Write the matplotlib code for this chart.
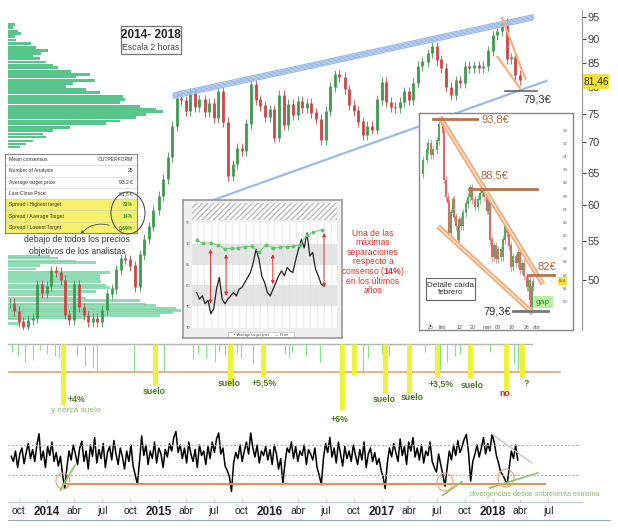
import numpy as np
import pandas as pd
import matplotlib
matplotlib.use('Agg')
import matplotlib.pyplot as plt
from matplotlib.patches import Rectangle, Ellipse

plt.rcParams['font.family'] = ['Liberation Sans', 'DejaVu Sans']
plt.rcParams['mathtext.fontset'] = 'custom'
plt.rcParams['mathtext.bf'] = 'Liberation Sans:bold'
plt.rcParams['mathtext.rm'] = 'Liberation Sans'

# ---------------- data ----------------
price_dates = pd.date_range('2013-09-01', periods=111, freq='SMS')
price_close = [47.3, 46.4, 45.2, 44.6, 45.4, 45.6, 49.5, 48.5, 49.3, 51.2,
               51.0, 50.0, 46.0, 45.4, 49.5, 46.8, 45.9, 45.2, 45.6, 45.2,
               46.5, 48.4, 49.0, 51.3, 52.7, 52.6, 51.8, 49.2, 53.2, 55.3,
               57.0, 59.3, 61.4, 64.0, 67.5, 72.8, 77.8, 77.5, 75.5, 79.0,
               76.2, 77.6, 75.4, 77.0, 74.2, 79.2, 73.5, 64.5, 66.3, 69.0,
               68.5, 73.2, 80.5, 77.6, 76.5, 74.5, 75.8, 70.8, 78.5, 73.0,
               76.8, 74.8, 77.4, 76.0, 77.0, 75.2, 74.0, 70.3, 75.5, 80.1,
               82.5, 82.0, 79.6, 76.6, 75.6, 73.6, 71.3, 72.8, 72.2, 77.6,
               81.0, 77.2, 76.2, 76.1, 77.2, 79.2, 77.6, 80.8, 84.2, 85.2,
               86.9, 88.3, 85.6, 83.8, 80.0, 78.6, 81.3, 80.9, 84.2, 83.8,
               84.4, 83.8, 84.2, 87.5, 90.8, 91.7, 93.6, 85.8, 86.0, 82.4,
               81.5]
last_price = 81.46
price_ticks = [50, 55, 60, 65, 70, 75, 80, 85, 90, 95]

vol_top_levels = [93.2, 92.5, 91.6, 91.2, 90.5, 89.8, 89.1, 88.2, 87.6, 86.9,
                  86.5, 85.9, 85.1, 84.5, 83.9, 83.1, 82.5, 82.1, 81.3, 80.7,
                  80.1, 79.6, 79.0, 78.3, 77.7, 77.1, 76.4, 75.8, 75.5, 74.9,
                  74.4, 73.7, 73.2, 72.6, 72.0, 71.4, 70.9, 70.2, 69.7, 69.2]
vol_top_widths = [7, 5, 10, 13, 7, 8, 23, 28, 40, 33,
                  25, 32, 38, 45, 50, 63, 82, 68, 87, 65,
                  58, 78, 92, 115, 117, 112, 132, 148, 155, 138,
                  128, 112, 98, 62, 45, 35, 38, 25, 18, 12]
vol_low_levels = [53.0, 52.8, 52.4, 52.2, 51.8, 51.4, 51.0, 50.6, 50.2, 49.9,
                  49.4, 49.1, 48.7, 48.3, 47.9, 47.6, 47.2, 47.0, 46.7, 46.5,
                  46.2, 45.9, 45.7, 45.5, 45.0]
vol_low_widths = [42, 50, 68, 88, 32, 28, 102, 92, 92, 93,
                  98, 102, 88, 72, 78, 132, 138, 148, 168, 173,
                  165, 152, 78, 25, 12]

upper_channel_dates = [2015.13, 2018.36]
upper_channel_prices = [78.9, 95.5]
lower_channel_dates = [2015.49, 2018.48]
lower_channel_prices = [60.8, 81.3]
wedge_a_dates, wedge_a_prices = [2018.08, 2018.29], [94.8, 81.7]
wedge_b_dates, wedge_b_prices = [2018.04, 2018.24], [86.2, 79.9]
low_line_dates, low_line_price = [2018.11, 2018.39], 79.3

spike_dates = [2013.69, 2013.74, 2013.80, 2013.87, 2013.94, 2014.00, 2014.07, 2014.11, 2014.27, 2014.34,
               2014.41, 2014.45, 2014.78, 2015.05, 2015.31, 2015.35, 2015.43, 2015.51, 2015.54, 2015.60,
               2015.70, 2015.74, 2015.85, 2015.92, 2016.13, 2016.17, 2016.20, 2016.32, 2016.45, 2016.63,
               2016.74, 2016.77, 2016.83, 2016.88, 2017.00, 2017.07, 2017.25, 2017.39, 2017.52, 2017.59,
               2017.66, 2017.70, 2017.97, 2018.13, 2018.19, 2018.22]
spike_depth = [8, 12, 18, 16, 6, 10, 12, 14, 12, 22,
               24, 28, 28, 28, 15, 10, 14, 18, 8, 12,
               10, 14, 20, 8, 10, 14, 8, 12, 18, 22,
               30, 24, 28, 14, 10, 12, 10, 8, 26, 18,
               12, 10, 8, 16, 20, 26]
floor_dates = [2014.14, 2014.97, 2015.64, 2015.94, 2016.65, 2016.75, 2017.03, 2017.25, 2017.50, 2017.79, 2018.12, 2018.26]
floor_depth = [61, 41, 41, 33, 66, 31, 49, 49, 33, 34, 46, 33]
threshold_depth = 28

osc_dates = pd.date_range('2013-09-06', periods=238, freq='W-FRI')
osc_values = [55, 48, 62, 40, 58, 66, 45, 60, 72, 52,
              64, 48, 70, 85, 50, 62, 40, 68, 56, 74,
              48, 60, 42, 55, 30, 12, 40, 62, 50, 70,
              58, 44, 66, 75, 48, 62, 38, 70, 55, 80,
              46, 64, 52, 72, 40, 60, 68, 50, 76, 58,
              44, 66, 54, 38, 62, 48, 70, 42, 30, 18,
              48, 82, 56, 70, 44, 62, 52, 74, 46, 66,
              58, 40, 64, 54, 72, 62, 80, 88, 60, 70,
              52, 66, 46, 74, 58, 48, 64, 40, 70, 56,
              62, 44, 68, 52, 74, 60, 78, 86, 58, 66,
              42, 36, 28, 8, 46, 60, 52, 70, 48, 62,
              74, 58, 86, 66, 54, 70, 46, 62, 56, 68,
              50, 64, 44, 70, 58, 38, 52, 18, 46, 66,
              60, 74, 52, 68, 48, 62, 56, 70, 44, 64,
              58, 50, 66, 40, 30, 17, 52, 72, 60, 80,
              54, 66, 46, 74, 58, 42, 68, 52, 62, 48,
              70, 56, 44, 64, 50, 74, 40, 58, 66, 48,
              60, 44, 52, 36, 28, 12, 46, 66, 54, 72,
              60, 48, 78, 56, 68, 44, 74, 62, 80, 54,
              66, 50, 70, 46, 62, 56, 74, 48, 40, 34,
              58, 44, 30, 15, 40, 62, 50, 70, 56, 76,
              60, 68, 78, 84, 60, 22, 48, 58, 70, 54,
              66, 80, 58, 72, 62, 84, 74, 56, 46, 34,
              30, 24, 17, 40, 62, 52, 70, 50]
osc_upper, osc_lower, osc_floor = 70, 30, 18

table_rows = [("Mean consensus", "OUTPERFORM"), ("Number of Analysts", "25"),
              ("Average target price", "93,2 €"), ("Last Close Price", "81,5 €"),
              ("Spread / Highest target", "31%"), ("Spread / Average Target", "14%"),
              ("Spread / Lowest Target", "0,69%")]

cons_price = [78.3, 76.7, 77.5, 75.6, 76.4, 73.2, 74.4, 79.1, 81.9, 76.7,
              75.6, 76.7, 77.5, 78.3, 77.5, 79.1, 79.5, 80.7, 81.9, 83.1,
              85.5, 88.7, 86.3, 82.3, 80.7, 78.3, 77.5, 79.1, 80.7, 82.3,
              83.5, 82.3, 84.3, 83.5, 83.1, 86.1, 88.7, 91.0, 89.0, 92.6,
              87.1, 87.9, 83.9, 82.3, 80.3, 79.9]
target_t = [0, 2.4, 4.9, 7.6, 10.0, 12.4, 14.7, 17.1, 19.4, 22.1,
            24.5, 27.1, 29.4, 31.8, 34.2, 36.5, 38.9, 41.2, 44.2]
target_v = [90.8, 90.1, 90.2, 89.6, 88.8, 88.9, 89.0, 89.3, 89.4, 87.9,
            89.8, 89.0, 89.1, 89.3, 89.4, 89.8, 92.0, 92.8, 93.3]
arrow_t = [4.9, 10.4, 26.9, 45.0]
arrow_lo = [75.6, 77.5, 80.3, 79.5]
arrow_hi = [88.7, 87.5, 87.5, 92.6]

detail_days = [18.1, 20.2, 22.3, 23.3, 24.8, 26.5, 28.6, 30.2, 31.7, 32.7,
               33.3, 34.4, 35.4, 36.5, 37.5, 38.6, 39.6, 40.6, 41.7, 42.7,
               43.8, 45.2, 46.9, 48.3, 49.4, 50.8, 52.5, 54.2, 55.6, 57.1,
               58.3, 59.8, 60.8, 61.9, 62.9, 64.4, 65.6, 67.1, 68.6, 69.8,
               71.3, 72.7, 73.9, 75.0, 76.5, 77.9, 79.2, 80.6, 82.1, 83.3,
               84.8, 85.8, 86.9, 87.5, 88.1, 88.9]
detail_close = [89.7, 90.7, 91.5, 92.0, 91.1, 91.5, 92.2, 93.4, 93.6, 92.8,
                89.2, 87.9, 87.5, 85.2, 86.7, 87.7, 86.4, 85.7, 84.7, 86.2,
                85.7, 86.7, 87.4, 87.9, 88.6, 87.7, 87.2, 87.7, 88.2, 88.7,
                87.9, 86.9, 87.7, 84.7, 83.4, 84.2, 83.2, 83.9, 83.4, 84.7,
                85.7, 85.2, 84.2, 82.6, 83.4, 82.9, 83.7, 82.4, 82.9, 81.9,
                81.1, 81.6, 80.1, 79.6, 81.1, 81.5]
detail_tick_days = [25, 32, 43, 51, 60, 67, 75, 85, 91]
detail_tick_labels = ['25', 'feb', '12', '20', 'mar', '08', '16', '26', 'abr']
detail_upper_days, detail_upper_prices = [30.6, 95.0], [94.0, 81.3]
detail_lower_days, detail_lower_prices = [29.4, 88.8], [85.7, 79.1]
levels = [(93.8, 26.3, 53.8), (88.5, 48.8, 91.3), (82.0, 85.6, 102.5)]
detail_low = (79.3, 76.3, 98.1)

floor_labels = [("+4%", 76, 399, '#4f7a28'), ("suelo", 154, 392, '#4f7a28'), ("suelo", 229, 383, '#4f7a28'),
                ("+5,5%", 264, 383, '#4f7a28'), ("+6%", 340, 419, '#4f7a28'), ("suelo", 384, 400, '#4f7a28'),
                ("suelo", 412, 398, '#4f7a28'), ("+3,5%", 441, 384, '#4f7a28'), ("suelo", 472, 386, '#4f7a28'),
                ("no", 505, 394, '#e02020'), ("?", 526, 383, '#4f7a28')]

# ---------------- helpers ----------------
W, H = 618, 528
fig = plt.figure(figsize=(W / 100, H / 100), dpi=100)


def box(x0, y0, x1, y1):
    return [x0 / W, 1 - y1 / H, (x1 - x0) / W, (y1 - y0) / H]


def dec_year(dates):
    d = pd.DatetimeIndex(dates)
    return np.asarray(d.year + (d.dayofyear - 1) / 365.25, dtype=float)


XL = (2013.650, 2018.798)
YL = (44.3, 96.6)
GREEN_C, RED_C = '#3f9a4f', '#cf4545'

# ---------------- volume profile (behind) ----------------
ax_vol = fig.add_axes(box(8, 10, 582, 330))
ax_vol.set_yscale('log')
ax_vol.set_ylim(*YL)
ax_vol.set_xlim(0, 574)
ax_vol.axis('off')
lv = np.array(vol_top_levels)
ax_vol.barh(lv, vol_top_widths, height=lv * 0.0068, left=0, color='#58c68a', lw=0)
lv2 = np.array(vol_low_levels)
ax_vol.barh(lv2, vol_low_widths, height=lv2 * 0.0068, left=0, color='#7fd6a8', alpha=0.85, lw=0)

# ---------------- main price chart ----------------
ax = fig.add_axes(box(8, 10, 582, 330))
ax.set_facecolor('none')
ax.set_yscale('log')
ax.set_ylim(*YL)
ax.set_xlim(*XL)
t = dec_year(price_dates)
c = np.array(price_close)
o = np.r_[c[0], c[:-1]]
col = np.where(c >= o, GREEN_C, RED_C)
ax.vlines(t, np.minimum(o, c) * 0.988, np.maximum(o, c) * 1.012, colors=col, lw=0.6)
ax.vlines(t, np.minimum(o, c), np.maximum(o, c) * 1.001, colors=col, lw=2.0)

for i in range(5):
    f = 0.9968 ** i
    ax.plot(upper_channel_dates, np.array(upper_channel_prices) * f, color='#9bbbe8', lw=0.9)
ax.plot(lower_channel_dates, lower_channel_prices, color='#9bbbe8', lw=1.6)
ax.plot(wedge_a_dates, wedge_a_prices, color='#f3b27e', lw=1.6)
ax.plot(wedge_b_dates, wedge_b_prices, color='#f3b27e', lw=1.6)
ax.plot(low_line_dates, [low_line_price] * 2, color='#666666', lw=1.2)

for s in ['top', 'left', 'bottom']:
    ax.spines[s].set_visible(False)
ax.spines['right'].set_color('#999999')
ax.yaxis.tick_right()
ax.set_yticks(price_ticks)
ax.set_yticklabels([str(v) for v in price_ticks])
ax.yaxis.set_minor_locator(matplotlib.ticker.NullLocator())
ax.tick_params(axis='y', labelsize=8, colors='#444444', length=3, pad=1)
ax.set_xticks([])

# ---------------- panel 1: spikes ----------------
ax1 = fig.add_axes(box(8, 340, 582, 425))
ax1.set_xlim(*XL)
ax1.set_ylim(-81, 4)
ax1.axis('off')
ax1.plot([XL[0], 2018.35], [0, 0], color='#b5b5b5', lw=1)
ax1.plot([XL[0], 2018.60], [-threshold_depth] * 2, color='#f0a070', lw=1.2)
ax1.vlines(spike_dates, -np.array(spike_depth), 0, color='#86e486', lw=0.8)
ax1.vlines(floor_dates, -np.array(floor_depth), 0, color='#eef23c', lw=3.6)

# ---------------- panel 2: oscillator ----------------
ax2 = fig.add_axes(box(8, 425, 582, 502))
ax2.set_facecolor('none')
ax2.set_xlim(*XL)
ax2.set_ylim(-6, 96.7)
ax2.plot(dec_year(osc_dates), osc_values, color='black', lw=1.1)
for lvl in (osc_upper, osc_lower):
    ax2.plot([XL[0], 2018.77], [lvl, lvl], ls=(0, (2, 2)), color='#aaaaaa', lw=0.7)
ax2.plot([2014.14, 2018.47], [osc_floor] * 2, color='#f08a4a', lw=1.4)
ax2.plot([2017.99, 2018.35], [84.7, 46.0], color='#bbbbbb', lw=0.8)
for xs, ys in [([2014.12, 2014.25], [10, 43]), ([2017.55, 2017.72], [3, 21]), ([2017.97, 2018.40], [12.7, 32.7])]:
    ax2.plot(xs, ys, color='#8cc870', lw=1.3)
for s in ['top', 'left', 'right']:
    ax2.spines[s].set_visible(False)
ax2.spines['bottom'].set_color('#b8c8d8')
tick_dates = pd.date_range('2013-10-01', '2018-07-01', freq='QS-JAN')
ax2.set_xticks(dec_year(tick_dates))
month_names = {4: 'abr', 7: 'jul', 10: 'oct'}
ax2.set_xticklabels([str(d.year) if d.month == 1 else month_names[d.month] for d in tick_dates])
for lab, d in zip(ax2.get_xticklabels(), tick_dates):
    if d.month == 1:
        lab.set_fontweight('bold')
        lab.set_fontsize(8.5)
    else:
        lab.set_fontsize(7.5)
ax2.tick_params(axis='x', direction='in', length=2.5, colors='#b8c8d8', labelcolor='#222222', pad=3)
ax2.set_yticks([])

# ---------------- table inset ----------------
ax_t = fig.add_axes(box(5, 154, 137, 233))
ax_t.set_xlim(0, 1)
ax_t.set_ylim(len(table_rows), 0)
ax_t.set_xticks([]); ax_t.set_yticks([])
for s in ax_t.spines.values():
    s.set_color('#888888'); s.set_linewidth(0.8)
for i, (k, v) in enumerate(table_rows):
    hl = i >= 4
    if hl:
        ax_t.add_patch(Rectangle((0, i), 1, 1, fc='#f6f06a', ec='none'))
    ax_t.axhline(i, color='#cccccc', lw=0.4)
    ax_t.text(0.03, i + 0.5, k, fontsize=3.6, va='center', color='#333333')
    ax_t.text(0.97, i + 0.5, v, fontsize=3.6, va='center', ha='right',
              color='#2a9a2a' if hl else '#333333', fontweight='bold' if hl else 'normal')

# ---------------- consensus inset ----------------
ax_c0 = fig.add_axes(box(183, 200, 342, 338))
ax_c0.set_facecolor('#efefef')
ax_c0.set_xticks([]); ax_c0.set_yticks([])
for s in ax_c0.spines.values():
    s.set_color('#999999'); s.set_linewidth(1.2)
ax_c0.add_patch(Rectangle((0.057, 0.855), 0.912, 0.123, fc='white', ec='#bbbbbb', hatch='//////', lw=0))
ax_c0.add_patch(Rectangle((0.28, 0.005), 0.42, 0.035, fc='white', ec='#bbbbbb', lw=0.4))
ax_c0.text(0.49, 0.022, '•  Average target price     —  Price', fontsize=2.6, ha='center', va='center', color='#444')

ax_c = fig.add_axes(box(192, 222, 337, 328))
ax_c.set_facecolor('white')
ax_c.set_xlim(-1.66, 49.6)
ax_c.set_ylim(69.8, 95.2)
ax_c.axhspan(85, 90, color='#e4e4e4', lw=0)
ax_c.axhspan(75, 80, color='#e4e4e4', lw=0)
ax_c.set_xticks(np.arange(0, 49, 2.5))
ax_c.grid(axis='x', color='#dddddd', lw=0.4)
ax_c.set_xticklabels([])
ax_c.set_yticks([70, 75, 80, 85, 90, 95])
ax_c.tick_params(axis='y', labelsize=3, colors='#777777', length=0, pad=1.5)
ax_c.tick_params(axis='x', length=0)
for s in ax_c.spines.values():
    s.set_visible(False)
ax_c.plot(np.arange(len(cons_price)), cons_price, color='#222222', lw=0.9)
ax_c.plot(target_t, target_v, color='#5cc86c', lw=0.6, marker='o', ms=1.8)
for ta, lo_, hi_ in zip(arrow_t, arrow_lo, arrow_hi):
    ax_c.annotate('', xy=(ta, hi_), xytext=(ta, lo_),
                  arrowprops=dict(arrowstyle='<|-|>', color='#e03030', lw=0.7, mutation_scale=5,
                                  shrinkA=0, shrinkB=0))

# ---------------- detail inset ----------------
ax_d0 = fig.add_axes(box(419, 113, 573, 330))
ax_d0.set_facecolor('white')
ax_d0.set_xticks([]); ax_d0.set_yticks([])
for s in ax_d0.spines.values():
    s.set_color('#888888'); s.set_linewidth(1.0)

ax_d = fig.add_axes(box(421, 115, 556, 322))
ax_d.set_facecolor('none')
ax_d.set_xlim(18.75, 103.1)
ax_d.set_ylim(78.45, 94.14)
dd = np.array(detail_days)
dc = np.array(detail_close)
do = np.r_[dc[0], dc[:-1]]
dcol = np.where(dc >= do, '#58a860', '#e06a6a')
ax_d.vlines(dd, np.minimum(do, dc) - 0.3, np.maximum(do, dc) + 0.3, colors=dcol, lw=0.5)
ax_d.vlines(dd, np.minimum(do, dc), np.maximum(do, dc) + 0.05, colors=dcol, lw=1.5)
for xs, ys in [(detail_upper_days, detail_upper_prices), (detail_lower_days, detail_lower_prices)]:
    ax_d.plot(xs, ys, color='#f2ad7c', lw=3.6, solid_capstyle='butt')
    ax_d.plot(xs, ys, color='#fbe3cf', lw=1.0, solid_capstyle='butt')
for p, a, b in levels:
    ax_d.plot([a, b], [p, p], color='#b8734a', lw=2.0)
ax_d.plot([detail_low[1], detail_low[2]], [detail_low[0]] * 2, color='#777777', lw=2.0)
for s in ax_d.spines.values():
    s.set_visible(False)
ax_d.yaxis.tick_right()
ax_d.set_yticks(range(80, 94))
ax_d.tick_params(axis='y', labelsize=3.2, colors='#666666', length=0, pad=5)
ax_d.set_xticks(detail_tick_days)
ax_d.set_xticklabels(detail_tick_labels)
ax_d.tick_params(axis='x', labelsize=3.8, colors='#555555', length=0, pad=2)

# ---------------- overlay annotations ----------------
ov = fig.add_axes([0, 0, 1, 1])
ov.set_xlim(0, W)
ov.set_ylim(H, 0)
ov.axis('off')
ov.patch.set_alpha(0)

ov.add_patch(Rectangle((121, 26), 60, 28, fc='white', ec='#777777', lw=0.9))
ov.text(151, 35.5, '2014- 2018', ha='center', va='center', fontsize=8.5, fontweight='bold', color='#222222')
ov.text(151, 47.5, 'Escala 2 horas', ha='center', va='center', fontsize=6.2, color='#444444')

ov.add_patch(Rectangle((583, 74), 26, 15, fc='#f5e23a', ec='none'))
ov.text(596, 81.5, f'{last_price:.2f}'.replace('.', ','), ha='center', va='center', fontsize=7.3, color='#333333')
ov.text(537, 100, '79,3€', ha='center', va='center', fontsize=8, color='#333333')

ov.add_patch(Ellipse((128, 213), 34, 42, fc='none', ec='#555555', lw=0.8))
ov.annotate('', xy=(79, 236), xytext=(112, 226),
            arrowprops=dict(arrowstyle='-|>', color='#555555', lw=0.6, mutation_scale=4,
                            connectionstyle='arc3,rad=0.35'))
ov.text(77, 240, 'debajo de todos los precios', ha='center', va='center', fontsize=6.2, color='#333333')
ov.text(77, 251, 'objetivos de los analistas', ha='center', va='center', fontsize=6.2, color='#333333')

red_lines = ['Una de las', 'máximas', 'separaciones', 'respecto a',
             r'consenso ($\mathbf{14\%}$)', 'en los últimos', 'años']
for i, s in enumerate(red_lines):
    ov.text(373, 233 + 9.6 * i, s, ha='center', va='center', fontsize=6.2, color='#e8302a')

ov.text(495, 120, '93,8€', ha='center', va='center', fontsize=8, color='#b06a3b')
ov.text(494, 175, '88,5€', ha='center', va='center', fontsize=8, color='#b06a3b')
ov.text(547, 267, '82€', ha='center', va='center', fontsize=8, color='#b06a3b')
ov.text(497, 311, '79,3€', ha='center', va='center', fontsize=8, color='#333333')
ov.add_patch(Rectangle((557.5, 277), 9, 8, fc='#f5e23a', ec='none'))
ov.text(562, 281, '81,4', ha='center', va='center', fontsize=2.6, color='#333333')
ov.add_patch(Rectangle((533, 296), 20, 12, fc='#b8eea4', ec='none'))
ov.text(543, 302, 'gap', ha='center', va='center', fontsize=6, color='#3a8a3a')
ov.add_patch(Rectangle((426, 278), 49, 22, fc='white', ec='#666666', lw=0.8))
ov.text(450.5, 289, 'Detalle caída\nfebrero', ha='center', va='center', fontsize=5.8, color='#333333',
        linespacing=1.1)

for s, x, y, cc in floor_labels:
    ov.text(x, y, s, ha='center', va='center', fontsize=6.3, fontweight='bold', color=cc)
ov.text(76, 411, 'y cerca suelo', ha='center', va='center', fontsize=6, color='#8ab870')

for (cx, cy, w, h) in [(63, 481, 14, 16), (445, 482, 16, 18), (506, 478, 16, 18)]:
    ov.add_patch(Ellipse((cx, cy), w, h, fc='none', ec='#f0a070', lw=0.8))
ov.text(535, 495, 'divergencias desde sobreventa extrema', ha='center', va='center', fontsize=5.3,
        color='#8ab870')
ov.plot([8, 610], [520, 520], color='#9aaabb', lw=0.8)

fig.savefig('out.png', dpi=100)
